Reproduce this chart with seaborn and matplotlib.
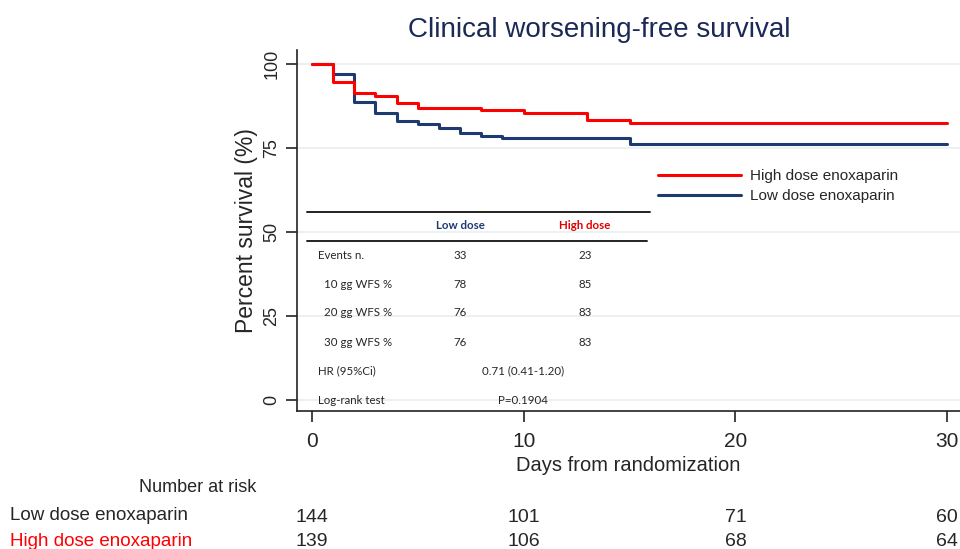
import matplotlib
matplotlib.use("Agg")
import matplotlib.pyplot as plt
import matplotlib.transforms as mtransforms
from matplotlib.lines import Line2D
import seaborn as sns
import pandas as pd

# Kaplan-Meier steps
days_high = [0, 1, 2, 3, 4, 5, 8, 10, 13, 15, 30]
surv_high = [100, 94.7, 91.3, 90.5, 88.5, 86.8, 86.2, 85.4, 83.4, 82.6, 82.6]
days_low = [0, 1, 2, 3, 4, 5, 6, 7, 8, 9, 15, 30]
surv_low = [100, 97.0, 88.8, 85.5, 83.1, 82.3, 81.0, 79.4, 78.7, 78.0, 76.1, 76.1]

# summary table
row_labels = ["Events n.", "  10 gg WFS %", "  20 gg WFS %", "  30 gg WFS %"]
low_vals = ["33", "78", "76", "76"]
high_vals = ["23", "85", "83", "83"]
hr_text = "0.71 (0.41-1.20)"
logrank_text = "P=0.1904"

# number at risk
risk_days = [0, 10, 20, 30]
risk_low = [144, 101, 71, 60]
risk_high = [139, 106, 68, 64]

RED = "#ff0000"
NAVY = "#1f3a70"
TITLE = "#1b2a55"

sns.set_style("white")
plt.rcParams["font.family"] = ["Liberation Sans", "DejaVu Sans"]
TABLE_FONT = ["Lato", "DejaVu Sans"]

W, H = 960, 549
fig = plt.figure(figsize=(9.6, 5.49), dpi=100)
ax = fig.add_axes([297 / W, 1 - 411 / H, 663 / W, 361 / H])


def px(x, y):
    return x / W, 1 - y / H


df_low = pd.DataFrame({"day": days_low, "surv": surv_low})
df_high = pd.DataFrame({"day": days_high, "surv": surv_high})
sns.lineplot(data=df_low, x="day", y="surv", drawstyle="steps-post",
             color=NAVY, linewidth=2.2, ax=ax, zorder=3)
sns.lineplot(data=df_high, x="day", y="surv", drawstyle="steps-post",
             color=RED, linewidth=2.2, ax=ax, zorder=4)

ax.set_xlim(-0.7, 30.6)
ax.set_ylim(-3.3, 104.2)
ax.set_xticks([0, 10, 20, 30])
ax.set_yticks([0, 25, 50, 75, 100])
ax.yaxis.grid(True, color="#e6edf2", linewidth=1.2, zorder=0)
ax.xaxis.grid(False)
for side in ["top", "right"]:
    ax.spines[side].set_visible(False)
for side in ["left", "bottom"]:
    ax.spines[side].set_color("#222222")
    ax.spines[side].set_linewidth(1.2)
ax.tick_params(axis="both", direction="out", length=8, width=1.2,
               color="#222222", bottom=True, left=True)
ax.tick_params(axis="y", labelsize=13, pad=4)
ax.tick_params(axis="x", labelsize=15, pad=7)
for lbl in ax.get_yticklabels():
    lbl.set_rotation(90)
    lbl.set_va("center")
ax.set_ylabel("Percent survival (%)", fontsize=16.5, labelpad=4)
ax.set_xlabel("Days from randomization", fontsize=14.5, labelpad=4)

fig.text(*px(599, 30), "Clinical worsening-free survival", fontsize=20,
         color=TITLE, ha="center", va="center")

# legend
handles = [Line2D([], [], color=RED, lw=2.2), Line2D([], [], color=NAVY, lw=2.2)]
ax.legend(handles, ["High dose enoxaparin", "Low dose enoxaparin"],
          loc="upper left", bbox_to_anchor=px(658, 169),
          bbox_transform=fig.transFigure, frameon=False, fontsize=11,
          handlelength=5.4, handletextpad=0.65, labelspacing=0.4,
          borderpad=0, borderaxespad=0)

# summary table
fig.add_artist(Line2D([307 / W, 650 / W], [1 - 212 / H] * 2, color="#222222", lw=1.4))
fig.add_artist(Line2D([307 / W, 647 / W], [1 - 241 / H] * 2, color="#222222", lw=1.4))
fig.text(*px(460, 226), "Low dose", color=NAVY, fontsize=8.3, weight="bold",
         family=TABLE_FONT, ha="center", va="center")
fig.text(*px(585, 226), "High dose", color="#e00000", fontsize=8.3, weight="bold",
         family=TABLE_FONT, ha="center", va="center")
row_y = [255, 284, 313, 342]
for y, lab, lo, hi in zip(row_y, row_labels, low_vals, high_vals):
    fig.text(*px(318, y), lab, fontsize=8.3, family=TABLE_FONT, va="center")
    fig.text(*px(460, y), lo, fontsize=8.3, family=TABLE_FONT, ha="center", va="center")
    fig.text(*px(585, y), hi, fontsize=8.3, family=TABLE_FONT, ha="center", va="center")
fig.text(*px(318, 371), "HR (95%Ci)", fontsize=8.3, family=TABLE_FONT, va="center")
fig.text(*px(523, 371), hr_text, fontsize=8.3, family=TABLE_FONT, ha="center", va="center")
fig.text(*px(318, 400), "Log-rank test", fontsize=8.3, family=TABLE_FONT, va="center")
fig.text(*px(523, 400), logrank_text, fontsize=8.3, family=TABLE_FONT, ha="center", va="center")

# number at risk
fig.text(*px(256, 488), "Number at risk", fontsize=13, ha="right", va="center")
fig.text(*px(10, 516), "Low dose enoxaparin", fontsize=13.5, va="center")
fig.text(*px(10, 541), "High dose enoxaparin", fontsize=13.5, va="center", color=RED)
blend = mtransforms.blended_transform_factory(ax.transData, fig.transFigure)
for d, lo, hi in zip(risk_days, risk_low, risk_high):
    ax.text(d, 1 - 518 / H, str(lo), transform=blend, fontsize=14,
            ha="center", va="center", clip_on=False)
    ax.text(d, 1 - 542 / H, str(hi), transform=blend, fontsize=14,
            ha="center", va="center", clip_on=False)

fig.savefig("out.png", dpi=100)
